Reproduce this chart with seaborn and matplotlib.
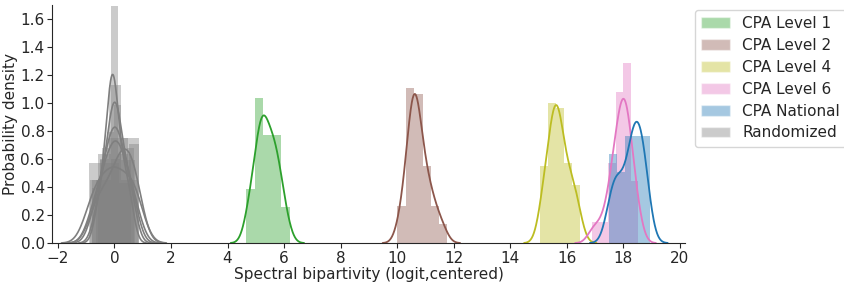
import numpy as np
import seaborn as sns
import matplotlib.pyplot as plt
from matplotlib.patches import Patch

# samples (logit spectral bipartivity, centered)
cpa_level1 = [4.72, 4.8, 4.9,
              5.0, 5.05, 5.1, 5.14, 5.18, 5.2, 5.23, 5.26,
              5.3, 5.35, 5.4, 5.45, 5.5, 5.55,
              5.6, 5.65, 5.7, 5.75, 5.8, 5.86,
              5.95, 6.1]
cpa_level2 = [10.1, 10.22,
              10.36, 10.4, 10.44, 10.48, 10.51, 10.54, 10.57, 10.59,
              10.62, 10.65, 10.68, 10.71, 10.74, 10.77, 10.81, 10.85,
              10.95, 11.02, 11.08, 11.15,
              11.28, 11.4,
              11.62]
cpa_level4 = [15.1, 15.18, 15.25, 15.32,
              15.4, 15.44, 15.48, 15.52, 15.55, 15.58, 15.62,
              15.65, 15.68, 15.71, 15.74, 15.78, 15.82, 15.86,
              15.96, 16.03, 16.1, 16.17,
              16.25, 16.35, 16.45]
cpa_level6 = [16.93,
              17.2,
              17.46, 17.52, 17.6, 17.68,
              17.74, 17.78, 17.82, 17.86, 17.9, 17.94, 17.98,
              18.0, 18.03, 18.06, 18.09, 18.12, 18.15, 18.19, 18.23, 18.26,
              18.35, 18.45, 18.53]
cpa_national = [17.5, 17.56, 17.63, 17.7, 17.77,
                17.82, 17.9, 17.98, 18.05,
                18.2, 18.26, 18.3, 18.32, 18.34, 18.35,
                18.4, 18.45, 18.49, 18.53, 18.58, 18.63,
                18.66, 18.68, 18.71, 18.75, 18.8, 18.9]

randomized = [
    [-0.6, -0.48, -0.38, -0.3, -0.2, -0.17, -0.12, -0.11, -0.08, -0.06,
     -0.04, -0.02, 0.01, 0.06, 0.14, 0.22, 0.3, 0.4, 0.5, 0.58],
    [-0.65, -0.52, -0.4, -0.3, -0.22, -0.16, -0.11, -0.07, -0.03, 0.0,
     0.03, 0.07, 0.11, 0.16, 0.22, 0.3, 0.38, 0.48, 0.58, 0.68],
    [-0.78, -0.62, -0.48, -0.4, -0.32, -0.24, -0.16, -0.1, -0.05, 0.0,
     0.03, 0.08, 0.12, 0.18, 0.26, 0.34, 0.44, 0.52, 0.64, 0.74],
    [-0.85, -0.7, -0.55, -0.45, -0.35, -0.28, -0.2, -0.12, -0.06, 0.0,
     0.05, 0.1, 0.16, 0.22, 0.3, 0.38, 0.47, 0.58, 0.7, 0.82],
    [-0.9, -0.85, -0.7, -0.62, -0.5, -0.4, -0.3, -0.2, -0.1, -0.05,
     0.05, 0.12, 0.2, 0.3, 0.45, 0.55, 0.65, 0.72, 0.8, 0.86],
    [-0.8, -0.65, -0.55, -0.4, -0.3, -0.15, -0.05, 0.05, 0.12, 0.2,
     0.25, 0.3, 0.38, 0.45, 0.52, 0.6, 0.66, 0.74, 0.82, 0.87],
]
randomized_bins = [5, 6, 6, 5, 5, 5]

labels = ["CPA Level 1", "CPA Level 2", "CPA Level 4", "CPA Level 6",
          "CPA National", "Randomized"]
colors = ["#2ca02c", "#8c564b", "#bcbd22", "#e377c2", "#1f77b4", "#7f7f7f"]
cpa_bins = [
    [4.65, 4.96, 5.27, 5.58, 5.89, 6.20],
    [10.01, 10.31, 10.60, 10.90, 11.19, 11.49, 11.78],
    [15.06, 15.35, 15.63, 15.92, 16.20, 16.49],
    [16.91, 17.18, 17.45, 17.73, 17.99, 18.27, 18.54],
    [17.49, 17.78, 18.07, 18.36, 18.65, 18.94],
]

sns.set_style("ticks")
plt.rcParams["font.family"] = ["DejaVu Sans"]
fig, ax = plt.subplots(figsize=(8.44, 2.86), dpi=100)

for s, nb in zip(randomized, randomized_bins):
    sns.histplot(x=s, bins=nb, stat="density", color=colors[-1], alpha=0.4,
                 linewidth=0, ax=ax)
    sns.kdeplot(x=s, color=colors[-1], linewidth=1.2, bw_adjust=1.06, ax=ax)

cpa = [cpa_level1, cpa_level2, cpa_level4, cpa_level6, cpa_national]
for s, b, c in zip(cpa, cpa_bins, colors):
    sns.histplot(x=s, bins=b, stat="density", color=c, alpha=0.4,
                 linewidth=0, ax=ax)
    sns.kdeplot(x=s, color=c, linewidth=1.3, bw_adjust=1.06, ax=ax)

ax.set_xlim(-2.2, 20.2)
ax.set_ylim(0, 1.7)
ax.set_xticks(np.arange(-2, 21, 2))
ax.set_yticks(np.arange(0, 1.61, 0.2))
ax.tick_params(labelsize=11, pad=2)
ax.set_xlabel("Spectral bipartivity (logit,centered)", fontsize=11, labelpad=1)
ax.set_ylabel("Probability density", fontsize=11, labelpad=2)
sns.despine(ax=ax)

handles = [Patch(facecolor=c, alpha=0.4, label=l) for c, l in zip(colors, labels)]
ax.legend(handles=handles, loc="upper left", bbox_to_anchor=(695 / 844, 1 - 10 / 286),
          bbox_transform=fig.transFigure, borderaxespad=0, fontsize=11,
          handlelength=1.9, handletextpad=0.8, labelspacing=0.45)

fig.subplots_adjust(left=0.062, right=0.812, bottom=0.15, top=0.983)
fig.savefig("out.png", dpi=100)
